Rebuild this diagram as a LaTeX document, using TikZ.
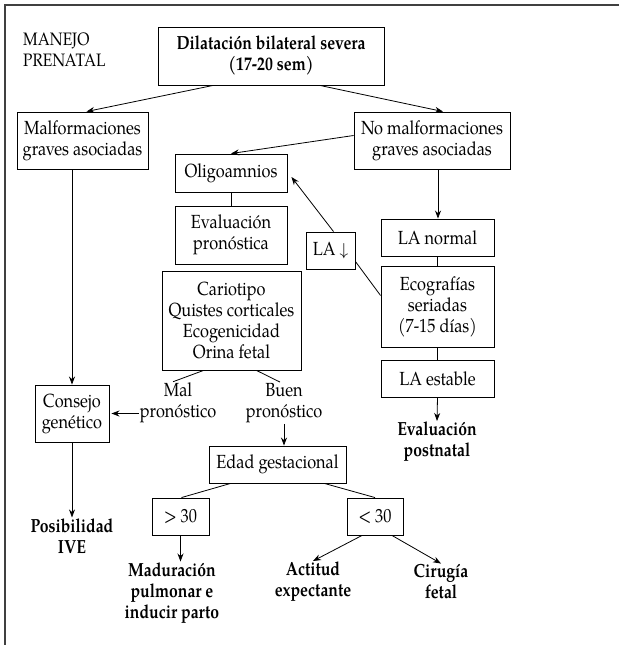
\documentclass[tikz,border=0pt]{standalone}
\usepackage{fontspec}
\setmainfont{texgyrepagella}[Extension=.otf, UprightFont=*-regular, BoldFont=*-bold,
  FakeStretch=0.86, BoldFeatures={FakeStretch=0.83}]
\usepackage{tikz}
\usetikzlibrary{arrows.meta}
\tikzset{
>={Stealth[length=8pt,width=6pt]}, % filled arrow heads
every node/.style={font=\fontsize{19}{21}\selectfont, align=center}, % text of every node
box/.style={draw, line width=0.9pt, inner sep=2pt}, % framed steps of the chart
result/.style={font=\fontsize{19}{21}\selectfont\bfseries, inner sep=1pt}, % bold outcomes
link/.style={line width=0.8pt}, % connectors between steps
}

\begin{document}
\begin{tikzpicture}[x=1pt,y=-1pt]
        \useasboundingbox (0,0) rectangle (619,645);
        \draw[line width=1.4pt, black!75] (619,5) -- (5,5) -- (5,645);

        \node[anchor=north west, align=left, inner sep=0, font=\fontsize{18}{21}\selectfont] (title) at (23,33) {MANEJO\\PRENATAL};
        \node[box, minimum width=226, minimum height=58, font=\fontsize{19}{21}\selectfont\bfseries] (sev) at (271,56) {Dilatación bilateral severa\\(17-20 sem)};
        \node[box, minimum width=131, minimum height=57] (malf) at (82.5,140.5) {Malformaciones\\graves asociadas};
        \node[box, minimum width=156, minimum height=57] (nomalf) at (432,140.5) {No malformaciones\\graves asociadas};
        \node[box, minimum width=112, minimum height=38] (oligo) at (231,173) {Oligoamnios};
        \node[box, minimum width=112, minimum height=58] (evalp) at (231,235) {Evaluación\\pronóstica};
        \node[box, minimum width=49, minimum height=37] (ladown) at (330.5,250.5) {LA $\downarrow$};
        \node[box, minimum width=113, minimum height=37] (lanorm) at (437.5,237.5) {LA normal};
        \node[box, minimum width=113, minimum height=81] (ecog) at (437.5,306.5) {Ecografías\\seriadas\\(7-15 días)};
        \node[box, minimum width=113, minimum height=37] (laest) at (437.5,378.5) {LA estable};
        \node[box, minimum width=139, minimum height=99] (cario) at (231.5,320.5) {Cariotipo\\Quistes corticales\\Ecogenicidad\\Orina fetal};
        \node[inner sep=1pt] (mal) at (178,403) {Mal\\pronóstico};
        \node[inner sep=1pt] (buen) at (284,403) {Buen\\pronóstico};
        \node[box, minimum width=74, minimum height=57] (consejo) at (72,413.5) {Consejo\\genético};
        \node[box, minimum width=137, minimum height=37] (edad) at (277.5,464.5) {Edad gestacional};
        \node[box, minimum width=57, minimum height=37] (mayor) at (180.5,516.5) {> 30};
        \node[box, minimum width=56, minimum height=37] (menor) at (375,516.5) {< 30};
        \node[result] (postnatal) at (437,442) {Evaluación\\postnatal};
        \node[result] (ive) at (72,536) {Posibilidad\\IVE};
        \node[result] (madur) at (172,593) {Maduración\\pulmonar e\\inducir parto};
        \node[result] (actitud) at (313,582) {Actitud\\expectante};
        \node[result] (cirugia) at (441,582) {Cirugía\\fetal};

        \draw[link, ->] ([xshift=-58]sev.south) -- ([xshift=4]malf.north);
        \draw[link, ->] ([xshift=49]sev.south) -- ([xshift=11]nomalf.north);
        \draw[link, ->] ([yshift=5]nomalf.west) -- (oligo.north);
        \draw[link, ->] ([xshift=6]nomalf.south) -- ([xshift=6]nomalf.south |- lanorm.north);
        \draw[link] (oligo) -- (evalp);
        \draw[link, ->] ([xshift=3]ladown.north) -- ([xshift=4,yshift=-4]oligo.east);
        \draw[link] ([yshift=-11]ladown.east) -- ([yshift=11]ecog.west);
        \draw[link] (lanorm) -- (ecog);
        \draw[link] (ecog) -- (laest);
        \draw[link, ->] (laest.south) -- (postnatal.north);
        \draw[link] ([xshift=-28]cario.south) -- ([xshift=-5]mal.north);
        \draw[link] ([xshift=25]cario.south) -- ([xshift=-4]buen.north);
        \draw[link, ->] (mal.west |- consejo.east) -- ([xshift=2]consejo.east);
        \draw[link, ->] (malf.south -| consejo.north) -- (consejo.north);
        \draw[link, ->] (consejo.south) -- (ive.north);
        \draw[link, ->] (buen.south) -- (buen.south |- edad.north);
        \draw[link] ([xshift=-47]edad.south) -- ([xshift=1]mayor.north);
        \draw[link] ([xshift=47]edad.south) -- (menor.north);
        \draw[link, ->] (mayor.south) -- (mayor.south |- madur.north);
        \draw[link, ->] ([xshift=-13]menor.south) -- (actitud.north);
        \draw[link, ->] ([xshift=17]menor.south) -- (cirugia.north);
\end{tikzpicture}
\end{document}
